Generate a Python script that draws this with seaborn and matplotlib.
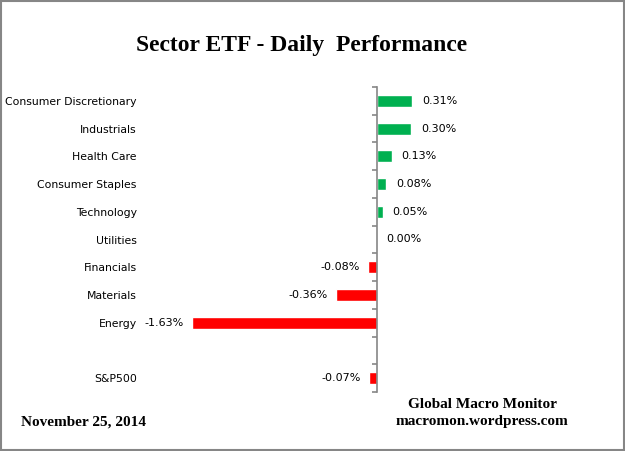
import matplotlib
matplotlib.use("Agg")
import matplotlib.pyplot as plt
import numpy as np
import pandas as pd
import seaborn as sns
from matplotlib.patches import Rectangle

sns.set_theme(style="white")
plt.rcParams["font.family"] = ["DejaVu Sans"]
plt.rcParams["text.color"] = "black"

# data
sectors = ["Consumer Discretionary", "Industrials", "Health Care", "Consumer Staples",
           "Technology", "Utilities", "Financials", "Materials", "Energy", "S&P500"]
values = [0.31, 0.30, 0.13, 0.08, 0.05, 0.00, -0.08, -0.36, -1.63, -0.07]
# blank slot between Energy and the index row
order = sectors[:9] + [" "] + sectors[9:]

GREEN = "#00B050"
RED = "#FF0000"
AXIS_GREY = "#868686"

df = pd.DataFrame({"sector": sectors, "value": values})
df["direction"] = np.where(df["value"] >= 0, "up", "down")

fig = plt.figure(figsize=(6.25, 4.51), dpi=100)
ax = fig.add_axes([140 / 625, 1 - 392 / 451, 460 / 625, 305 / 451])

sns.barplot(data=df, x="value", y="sector", hue="direction", order=order,
            palette={"up": GREEN, "down": RED}, width=0.43, legend=False,
            saturation=1, ax=ax)

ax.set_xlim(-(377 - 140) / 113.5, (600 - 377) / 113.5)
ax.set_ylim(len(order) - 0.5, -0.5)

# vertical axis sits at zero; category labels pushed to the far left
for side in ["top", "right", "bottom"]:
    ax.spines[side].set_visible(False)
ax.spines["left"].set_position(("data", 0))
ax.spines["left"].set_color(AXIS_GREY)
ax.spines["left"].set_linewidth(1.2)
ax.set_xticks([])
ax.set_xlabel("")
ax.set_ylabel("")
ax.set_yticks(range(len(order)))
ax.set_yticklabels(order)
ax.tick_params(axis="y", which="major", length=0, pad=173, labelsize=7.8,
               labelcolor="black")
ax.set_yticks(np.arange(-0.5, len(order)), minor=True)
ax.tick_params(axis="y", which="minor", left=True, length=3.6, width=1.2,
               color=AXIS_GREY, direction="out")

for s, v in zip(sectors, values):
    pos = order.index(s)
    if v >= 0:
        ax.annotate(f"{v:.2f}%", (v, pos), xytext=(7, 0), textcoords="offset points",
                    ha="left", va="center", fontsize=8, color="black")
    else:
        ax.annotate(f"{v:.2f}%", (v, pos), xytext=(-6, 0), textcoords="offset points",
                    ha="right", va="center", fontsize=8, color="black")

serif = ["Liberation Serif", "DejaVu Serif"]
fig.text(302 / 625, 1 - 45 / 451, "Sector ETF - Daily  Performance", ha="center",
         va="center", fontsize=17, fontweight="bold", family=serif, color="black")
fig.text(21 / 625, 1 - 422 / 451, "November 25, 2014", ha="left", va="center",
         fontsize=11, fontweight="bold", family=serif, color="black")
fig.text(482 / 625, 1 - 405 / 451, "Global Macro Monitor", ha="center", va="center",
         fontsize=11, fontweight="bold", family=serif, color="black")
fig.text(482 / 625, 1 - 422 / 451, "macromon.wordpress.com", ha="center", va="center",
         fontsize=11, fontweight="bold", family=serif, color="black")

fig.patches.append(Rectangle((0.001, 0.002), 0.997, 0.996, transform=fig.transFigure,
                             fill=False, edgecolor=AXIS_GREY, linewidth=1.5))

fig.savefig("out.png", dpi=100)
plt.close(fig)
